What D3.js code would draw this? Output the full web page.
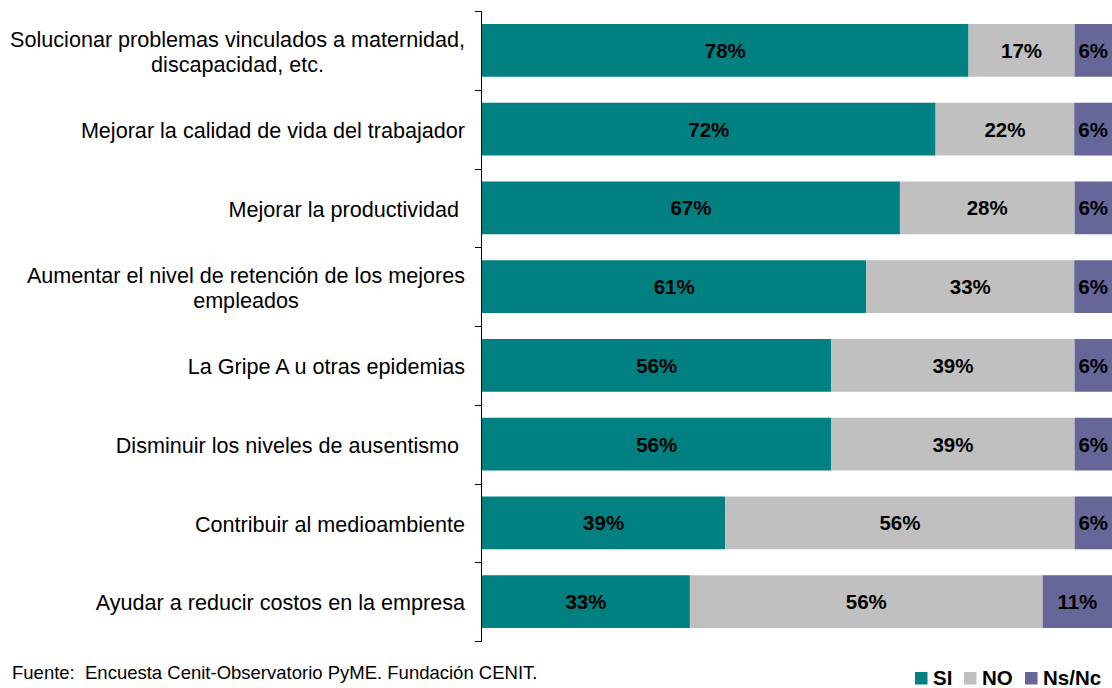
<!DOCTYPE html>
<html>
<head>
<meta charset="utf-8">
<style>
  body { margin: 0; background: #fff; }
  text { font-family: "Liberation Sans", Arial, sans-serif; }
</style>
</head>
<body>
<svg width="1112" height="688"></svg>
<script src="https://d3js.org/d3.v7.min.js"></script>
<script>
// categories (top to bottom), each label may wrap to two lines
var categories = [
  ["Solucionar problemas vinculados a maternidad,", "discapacidad, etc."],
  ["Mejorar la calidad de vida del trabajador"],
  ["Mejorar la productividad\u00a0"],
  ["Aumentar el nivel de retención de los mejores", "empleados"],
  ["La Gripe A u otras epidemias"],
  ["Disminuir los niveles de ausentismo\u00a0"],
  ["Contribuir al medioambiente"],
  ["Ayudar a reducir costos en la empresa"]
];
var si   = [78, 72, 67, 61, 56, 56, 39, 33];
var no   = [17, 22, 28, 33, 39, 39, 56, 56];
var nsnc = [6, 6, 6, 6, 6, 6, 6, 11];
var seriesNames = ["SI", "NO", "Ns/Nc"];
var colors = ["#008080", "#c0c0c0", "#666699"];

var svg = d3.select("svg");
var plotL = 482, plotR = 1112, plotT = 11, plotB = 641;

var rows = categories.map(function(c, i) {
  var vals = [si[i], no[i], nsnc[i]];
  var total = d3.sum(vals);
  var x0 = 0;
  var segs = vals.map(function(v, j) {
    var s = { i: i, j: j, v: v, start: x0 / total, end: (x0 + v) / total };
    x0 += v;
    return s;
  });
  return { i: i, label: c, segs: segs };
});

var x = d3.scaleLinear().domain([0, 1]).range([plotL, plotR]);
var y = d3.scaleBand().domain(d3.range(categories.length)).range([plotT, plotB]).paddingInner(0.33).paddingOuter(0.165);
var yEdge = d3.scaleLinear().domain([0, categories.length]).range([plotT, plotB]);

// bars
var g = svg.append("g");
var seg = g.selectAll("g.row").data(rows).enter().append("g")
  .selectAll("g.seg").data(function(d) { return d.segs; }).enter().append("g");

seg.append("rect")
  .attr("x", function(d) { return x(d.start); })
  .attr("y", function(d) { return y(d.i); })
  .attr("width", function(d) { return x(d.end) - x(d.start); })
  .attr("height", y.bandwidth())
  .attr("fill", function(d) { return colors[d.j]; });

seg.append("text")
  .attr("x", function(d) { return (x(d.start) + x(d.end)) / 2; })
  .attr("y", function(d) { return y(d.i) + y.bandwidth() / 2; })
  .attr("dy", "0.36em")
  .attr("text-anchor", "middle")
  .attr("font-size", 20.5)
  .attr("font-weight", "bold")
  .attr("fill", "#000")
  .text(function(d) { return d.v + "%"; });

// vertical axis with ticks at category boundaries
svg.append("line")
  .attr("x1", plotL - 0.5).attr("x2", plotL - 0.5)
  .attr("y1", plotT).attr("y2", plotB)
  .attr("stroke", "#000").attr("stroke-width", 1);
svg.selectAll("line.tick").data(d3.range(categories.length + 1)).enter().append("line")
  .attr("x1", plotL - 7).attr("x2", plotL)
  .attr("y1", function(d) { return Math.round(yEdge(d)) + 0.5; })
  .attr("y2", function(d) { return Math.round(yEdge(d)) + 0.5; })
  .attr("stroke", "#000").attr("stroke-width", 1);

// category labels
var lab = svg.selectAll("text.cat").data(rows).enter().append("text")
  .attr("class", "cat")
  .attr("text-anchor", "end")
  .attr("font-size", 21.6)
  .attr("fill", "#000")
  .attr("y", function(d) { return y(d.i) + y.bandwidth() / 2 + 1; });
lab.selectAll("tspan").data(function(d) {
    var n = d.label.length;
    return d.label.map(function(t, k) { return { t: t, k: k, n: n }; });
  }).enter().append("tspan")
  .attr("x", 465)
  .attr("dy", function(d) {
    if (d.n === 1) return "0.36em";
    return d.k === 0 ? "-0.2em" : "1.15em";
  })
  .text(function(d) { return d.t; });
// center second-line labels under the first line like the source
lab.each(function(d) {
  if (d.label.length < 2) return;
  var ts = d3.select(this).selectAll("tspan").nodes();
  var w0 = ts[0].getComputedTextLength();
  ts[1].setAttribute("text-anchor", "middle");
  ts[1].setAttribute("x", 465 - w0 / 2);
});

// source note
svg.append("text")
  .attr("x", 12).attr("y", 679)
  .attr("font-size", 18.5)
  .text("Fuente:\u00a0 Encuesta Cenit-Observatorio PyME. Fundación CENIT.");

// legend
var legX = [915, 964, 1025];
var leg = svg.selectAll("g.leg").data(seriesNames).enter().append("g")
  .attr("transform", function(d, i) { return "translate(" + legX[i] + ",672)"; });
leg.append("rect").attr("x", 0).attr("y", 0).attr("width", 12.5).attr("height", 12.5)
  .attr("fill", function(d, i) { return colors[i]; });
leg.append("text").attr("x", 18).attr("y", 13)
  .attr("font-size", 20.5).attr("font-weight", "bold")
  .text(function(d) { return d; });
</script>
</body>
</html>
